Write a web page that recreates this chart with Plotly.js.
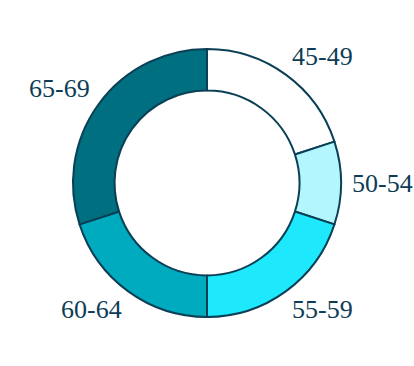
<!DOCTYPE html>
<html><head><meta charset="utf-8">
<script src="https://cdn.plot.ly/plotly-3.0.1.min.js"></script>
<style>html,body{margin:0;padding:0;background:#fff;}#chart{width:414px;height:366px;}</style>
</head><body><div id="chart"></div>
<script>
const categories = ["45-49", "50-54", "55-59", "60-64", "65-69"];
const values = [20, 10, 20, 20, 30];
const colors = ["#ffffff", "#b3f6fd", "#1ee8fb", "#00aabf", "#006f7f"];

// layout geometry (pixels)
const W = 414, H = 366, MT = 49, MB = 49;
const cx = W / 2, cy = MT + (H - MT - MB) / 2;
const labelR = 145, boxW = 61, boxH = 19;
const font = {family: "Liberation Serif, Times New Roman, serif", size: 26, color: "#0d3d56"};

const total = values.reduce((a, b) => a + b, 0);
let cum = 0;
const annotations = categories.map((cat, i) => {
  const mid = (cum + values[i] / 2) / total * 2 * Math.PI;
  cum += values[i];
  const s = Math.sin(mid), c = Math.cos(mid);
  const sx = Math.abs(s) < 0.2 ? 0 : Math.sign(s);
  const sy = Math.abs(c) < 0.2 ? 0 : Math.sign(c);
  const px = cx + labelR * s + sx * boxW / 2;
  const py = cy - labelR * c - sy * boxH / 2;
  return {
    text: cat, showarrow: false, xref: "paper", yref: "paper",
    x: px / W, y: (H - MB - py) / (H - MT - MB),
    xanchor: "center", yanchor: "middle", font: font
  };
});

Plotly.newPlot("chart", [{
  type: "pie",
  labels: categories,
  values: values,
  sort: false,
  direction: "clockwise",
  rotation: 0,
  hole: 0.69,
  textinfo: "none",
  marker: {colors: colors, line: {color: "#0b3f55", width: 2}},
  showlegend: false
}], {
  width: W, height: H,
  margin: {l: 0, r: 0, t: MT, b: MB},
  paper_bgcolor: "#ffffff",
  showlegend: false,
  annotations: annotations
}, {displayModeBar: false, staticPlot: true});
</script></body></html>
